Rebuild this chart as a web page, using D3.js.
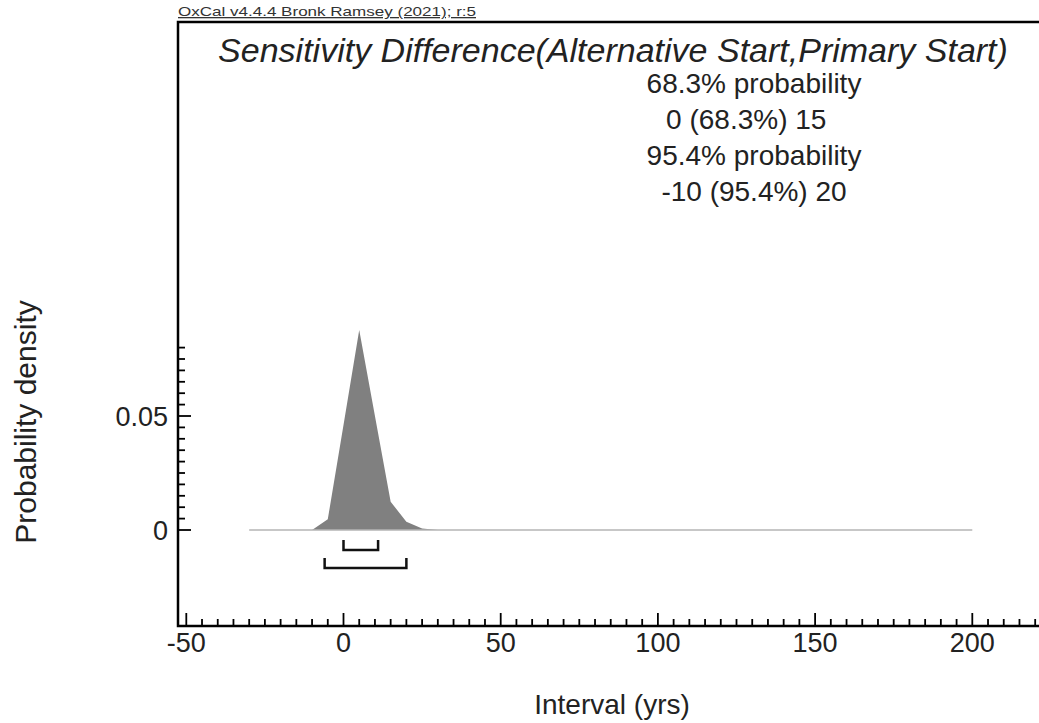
<!DOCTYPE html>
<html>
<head>
<meta charset="utf-8">
<script src="https://cdn.jsdelivr.net/npm/d3@7"></script>
<style>
  body { margin: 0; background: #fff; }
  svg { display: block; font-family: "Liberation Sans", Arial, sans-serif; }
</style>
</head>
<body>
<div id="chart"></div>
<script>
// Posterior of the interval (years, density)
const years = [-30, -10, -5, 0, 5, 10, 15, 20, 25, 30, 200];
const density = [0, 0, 0.0047, 0.046, 0.0877, 0.050, 0.0124, 0.0036, 0.0007, 0, 0];

// Highest posterior density ranges drawn as brackets
const ranges68 = [0, 11];
const ranges95 = [-6, 20];

const xTicks = [-50, 0, 50, 100, 150, 200];
const yTicks = [0, 0.05];
const yTickLabels = ["0", "0.05"];

const title = "Sensitivity Difference(Alternative Start,Primary Start)";
const statLines = ["68.3% probability", "0 (68.3%) 15", "95.4% probability", "-10 (95.4%) 20"];
const header = "OxCal v4.4.4 Bronk Ramsey (2021); r:5";

const width = 1039, height = 723;
const frame = { left: 178, top: 22, bottom: 626 };

const svg = d3.select("#chart")
    .append("svg")
    .attr("width", width)
    .attr("height", height);

const x = d3.scaleLinear().domain([-50, 200]).range([186.3, 972.3]);
const y = d3.scaleLinear().domain([0, 0.05]).range([530, 416]);

// Frame (left, top, bottom)
svg.append("path")
    .attr("d", `M${width},${frame.top}H${frame.left}V${frame.bottom}H${width}`)
    .attr("fill", "none")
    .attr("stroke", "#000")
    .attr("stroke-width", 2.5);

// Header
svg.append("text")
    .attr("x", frame.left)
    .attr("y", 16)
    .attr("font-size", 13)
    .attr("fill", "#333")
    .attr("textLength", 298)
    .attr("lengthAdjust", "spacingAndGlyphs")
    .attr("text-decoration", "underline")
    .text(header);

// x ticks every 5 years, majors every 50
const xMinor = d3.range(-50, 225, 5);
svg.append("g").selectAll("line")
    .data(xMinor)
    .join("line")
    .attr("x1", d => x(d)).attr("x2", d => x(d))
    .attr("y1", frame.bottom)
    .attr("y2", d => frame.bottom - (d % 50 === 0 ? 13 : 7))
    .attr("stroke", "#000")
    .attr("stroke-width", 1.8);

svg.append("g").selectAll("text")
    .data(xTicks)
    .join("text")
    .attr("x", d => x(d))
    .attr("y", 652)
    .attr("text-anchor", "middle")
    .attr("font-size", 27)
    .attr("fill", "#222")
    .text(d => d);

// y ticks every 0.005, majors at 0 and 0.05
const yMinor = d3.range(0, 0.0801, 0.005);
svg.append("g").selectAll("line")
    .data(yMinor)
    .join("line")
    .attr("y1", d => y(d)).attr("y2", d => y(d))
    .attr("x1", frame.left)
    .attr("x2", (d, i) => frame.left + (i % 10 === 0 ? 13 : 7))
    .attr("stroke", "#000")
    .attr("stroke-width", 1.8);

svg.append("g").selectAll("text")
    .data(yTicks)
    .join("text")
    .attr("x", 168)
    .attr("y", d => y(d) + 10)
    .attr("text-anchor", "end")
    .attr("font-size", 27)
    .attr("fill", "#222")
    .text((d, i) => yTickLabels[i]);

// Axis titles
svg.append("text")
    .attr("transform", "translate(36,422) rotate(-90)")
    .attr("text-anchor", "middle")
    .attr("font-size", 30)
    .attr("fill", "#222")
    .text("Probability density");

svg.append("text")
    .attr("x", 612)
    .attr("y", 714)
    .attr("text-anchor", "middle")
    .attr("font-size", 28)
    .attr("fill", "#222")
    .text("Interval (yrs)");

// Title and summary
svg.append("text")
    .attr("x", 613)
    .attr("y", 62)
    .attr("text-anchor", "middle")
    .attr("font-size", 34)
    .attr("font-style", "italic")
    .attr("fill", "#222")
    .text(title);

svg.append("g").selectAll("text")
    .data(statLines)
    .join("text")
    .attr("x", 754)
    .attr("y", (d, i) => 93 + i * 36)
    .attr("text-anchor", "middle")
    .attr("font-size", 28)
    .attr("fill", "#222")
    .style("white-space", "pre")
    .text((d, i) => i === 1 ? d + "  " : d);

// Distribution
const pts = years.map((d, i) => ({ t: d, p: density[i] }));

svg.append("path")
    .datum(pts)
    .attr("d", d3.area().x(d => x(d.t)).y0(y(0)).y1(d => y(d.p)))
    .attr("fill", "#808080");

svg.append("line")
    .attr("x1", x(years[0])).attr("x2", x(years[years.length - 1]))
    .attr("y1", y(0)).attr("y2", y(0))
    .attr("stroke", "#b5b5b5")
    .attr("stroke-width", 1.5);

// Range brackets
function bracket(r, yy) {
    svg.append("path")
        .attr("d", `M${x(r[0])},${yy - 10}V${yy}H${x(r[1])}V${yy - 10}`)
        .attr("fill", "none")
        .attr("stroke", "#111")
        .attr("stroke-width", 2.5);
}
bracket(ranges68, 550);
bracket(ranges95, 568);
</script>
</body>
</html>
